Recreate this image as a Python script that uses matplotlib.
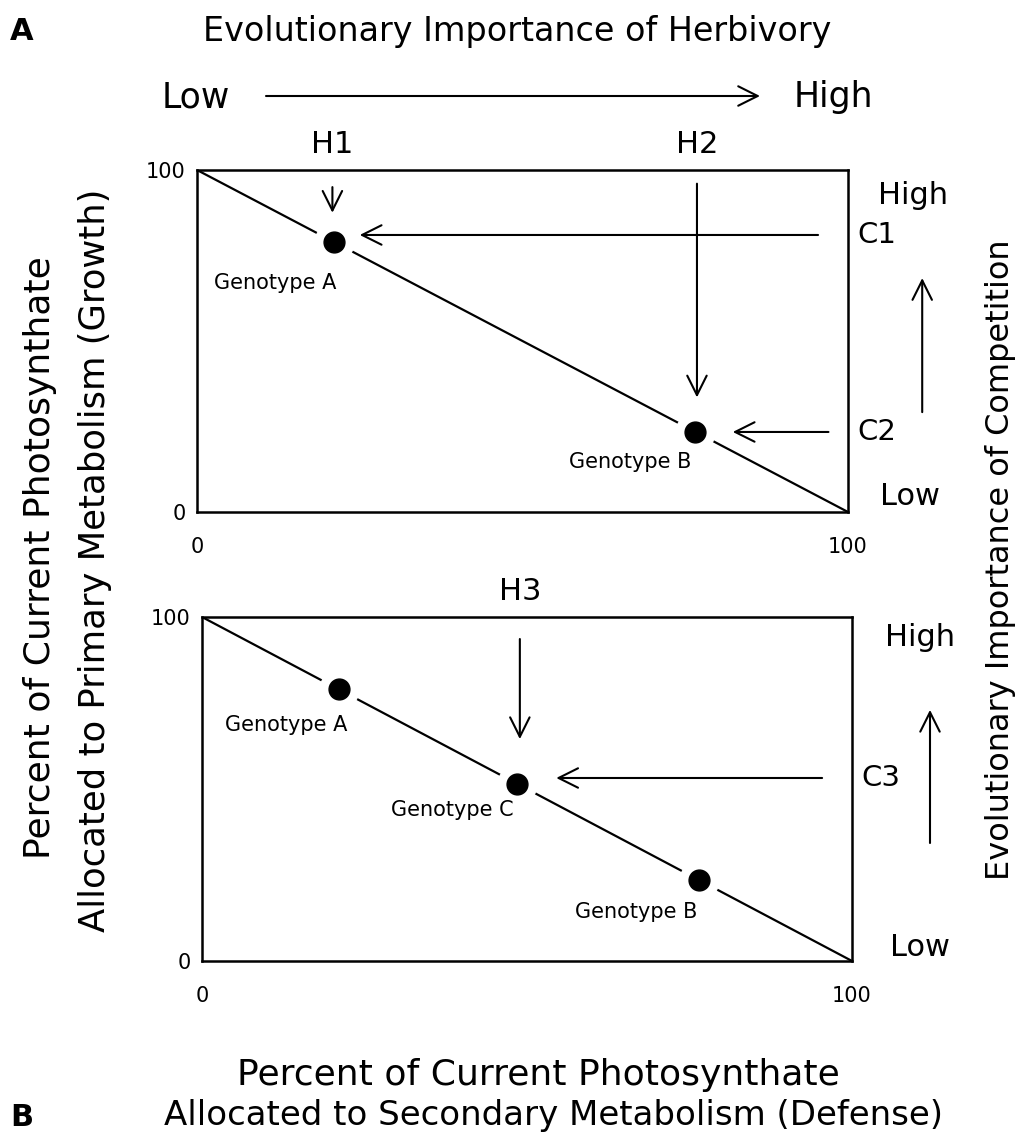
import matplotlib.pyplot as plt

W, H = 1029, 1145
plt.rcParams['font.family'] = ['DejaVu Sans']

# allocation trade-off line: % defense (x) vs % growth (y)
trade_def = [0, 100]
trade_growth = [100, 0]
tick_vals = [0, 100]
tick_labels = ['0', '100']

# panel A genotypes
a_names = ['Genotype A', 'Genotype B']
a_def = [21, 76.5]
a_growth = [79, 23.5]

# panel A selection: herbivory (vertical) and competition (horizontal)
a_herb = ['H1', 'H2']
a_herb_x = [20.8, 76.8]
a_herb_from = [95, 96]
a_herb_to = [87.5, 33.5]
a_comp = ['C1', 'C2']
a_comp_y = [81, 23.4]
a_comp_from = [95.4, 97]
a_comp_to = [25, 82.3]

# panel B genotypes
b_names = ['Genotype A', 'Genotype C', 'Genotype B']
b_def = [21, 48.5, 76.5]
b_growth = [79, 51.5, 23.5]

b_herb = ['H3']
b_herb_x = [48.9]
b_herb_from = [93.6]
b_herb_to = [64.5]
b_comp = ['C3']
b_comp_y = [53.2]
b_comp_from = [95.4]
b_comp_to = [54.5]

# label offsets (layout only)
a_lab_off = [(-9, -12), (-10, -9)]
b_lab_off = [(-8, -10.5), (-10, -7.6), (-9.7, -9.3)]


def fpx(x, y):
    # top-left pixel -> figure fraction
    return (x / W, 1 - y / H)


def arrow(ax, tip, tail, coords='data'):
    ax.annotate('', xy=tip, xycoords=coords, xytext=tail, textcoords=coords,
                annotation_clip=False,
                arrowprops=dict(arrowstyle='->,head_length=0.7,head_width=0.35',
                                mutation_scale=20, lw=1.5, color='black',
                                shrinkA=0, shrinkB=0))


def panel(ax, names, xs, ys, offs, herb, herb_x, herb_from, herb_to,
          comp, comp_y, comp_from, comp_to, high_xy, low_xy, up_x, up_from, up_to):
    ax.plot(trade_def, trade_growth, color='black', lw=1.6, zorder=1,
            solid_capstyle='butt')
    ax.plot(xs, ys, 'o', ms=28, color='white', zorder=2)
    ax.plot(xs, ys, 'o', ms=15, color='black', zorder=3)
    for name, x, y, (dx, dy) in zip(names, xs, ys, offs):
        ax.text(x + dx, y + dy, name, ha='center', va='center', fontsize=15)
    for lab, x, y0, y1 in zip(herb, herb_x, herb_from, herb_to):
        arrow(ax, (x, y1), (x, y0))
        ax.text(x, 107.5, lab, ha='center', va='center', fontsize=22,
                clip_on=False)
    for lab, y, x0, x1 in zip(comp, comp_y, comp_from, comp_to):
        arrow(ax, (x1, y), (x0, y))
        ax.text(101.5, y, lab, ha='left', va='center', fontsize=21,
                clip_on=False)
    ax.text(high_xy[0], high_xy[1], 'High', ha='center', va='center',
            fontsize=22, clip_on=False)
    ax.text(low_xy[0], low_xy[1], 'Low', ha='center', va='center',
            fontsize=22, clip_on=False)
    arrow(ax, (up_x, up_to), (up_x, up_from))

    ax.set_xlim(0, 100)
    ax.set_ylim(0, 100)
    ax.set_xticks(tick_vals)
    ax.set_xticklabels(tick_labels)
    ax.set_yticks(tick_vals)
    ax.set_yticklabels(tick_labels)
    ax.tick_params(length=0, labelsize=15)
    ax.tick_params(axis='x', pad=18)
    ax.tick_params(axis='y', pad=8)
    for sp in ax.spines.values():
        sp.set_linewidth(1.8)


fig = plt.figure(figsize=(W / 100, H / 100), dpi=100)
ax_a = fig.add_axes([197 / W, 1 - 512 / H, 651 / W, 342 / H])
ax_b = fig.add_axes([202 / W, 1 - 961 / H, 650 / W, 344 / H])

panel(ax_a, a_names, a_def, a_growth, a_lab_off, a_herb, a_herb_x,
      a_herb_from, a_herb_to, a_comp, a_comp_y, a_comp_from, a_comp_to,
      (110, 92.5), (109.5, 4.5), 111.4, 29.2, 68.4)
panel(ax_b, b_names, b_def, b_growth, b_lab_off, b_herb, b_herb_x,
      b_herb_from, b_herb_to, b_comp, b_comp_y, b_comp_from, b_comp_to,
      (110.5, 94), (110.5, 4), 112, 34.3, 73)

# top herbivory scale
fig.text(*fpx(22, 32), 'A', fontsize=22, fontweight='bold', ha='center', va='center')
fig.text(*fpx(517, 32), 'Evolutionary Importance of Herbivory', fontsize=24,
         ha='center', va='center')
fig.text(*fpx(196, 97), 'Low', fontsize=25, ha='center', va='center')
fig.text(*fpx(833, 97), 'High', fontsize=25, ha='center', va='center')
arrow(ax_a, fpx(760, 96), fpx(266, 96), coords='figure fraction')

# axis titles
fig.text(*fpx(40, 558), 'Percent of Current Photosynthate', fontsize=26,
         rotation=90, ha='center', va='center')
fig.text(*fpx(95, 560), 'Allocated to Primary Metabolism (Growth)', fontsize=25.5,
         rotation=90, ha='center', va='center')
fig.text(*fpx(1000, 560), 'Evolutionary Importance of Competition', fontsize=23,
         rotation=90, ha='center', va='center')
fig.text(*fpx(538, 1075), 'Percent of Current Photosynthate', fontsize=26,
         ha='center', va='center')
fig.text(*fpx(553, 1115), 'Allocated to Secondary Metabolism (Defense)', fontsize=24.5,
         ha='center', va='center')
fig.text(*fpx(22, 1118), 'B', fontsize=22, fontweight='bold', ha='center', va='center')

fig.savefig('out.png', dpi=100)
